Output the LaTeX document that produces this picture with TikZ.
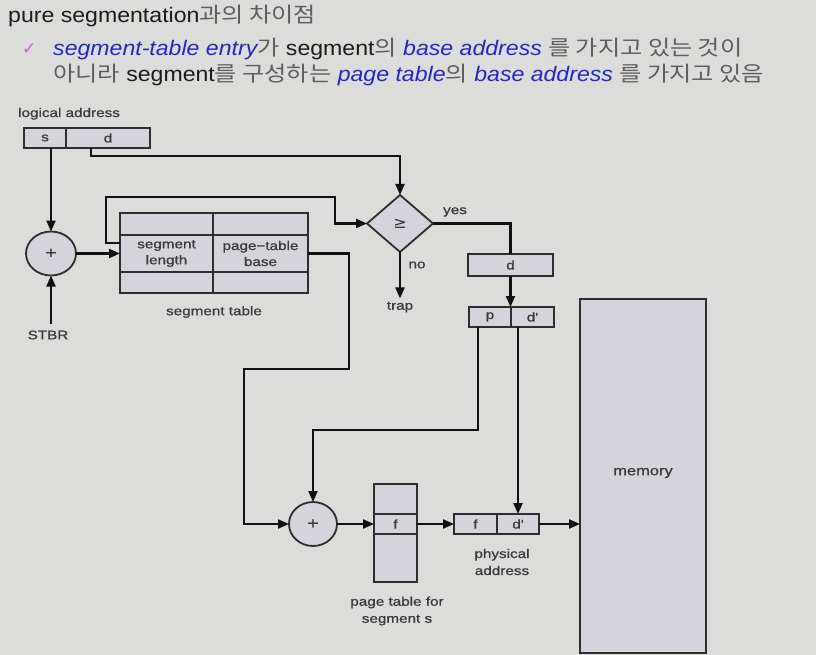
\documentclass[tikz,border=0pt]{standalone}
\usepackage{fontspec}
\setmainfont{Liberation Sans}
\newfontfamily\tf[FakeStretch=1.1]{Liberation Sans}
\newfontfamily\kr[FakeStretch=1.15]{Noto Sans CJK KR}
\newfontfamily\lab[FakeStretch=1.22,FakeBold=0.8]{Liberation Sans}
\newfontfamily\sym{DejaVu Sans}
\usetikzlibrary{arrows.meta,shapes.geometric,calc}
\definecolor{bg}{HTML}{DCDCDA}
\definecolor{boxfill}{HTML}{D4D4DA}
\definecolor{edge}{HTML}{2E2E2E}
\definecolor{ink}{HTML}{111111}
\definecolor{labtext}{HTML}{3A3A3A}
\definecolor{blu}{HTML}{2626C8}
\definecolor{krgray}{HTML}{5E5E5E}
\definecolor{blk}{HTML}{1C1C1C}
\definecolor{chk}{HTML}{B870C4}
\newcommand{\bl}[1]{{\color{blu}\itshape #1}}
\newcommand{\kg}[1]{{\color{krgray}\kr #1}}
\tikzset{
  cell/.style={draw=edge, line width=1.8pt, fill=boxfill, rectangle, inner sep=0pt, outer sep=0pt, font=\lab\fontsize{12.5}{14}\selectfont, text=labtext, align=center},
  addr/.style={draw=edge, line width=1.8pt, fill=boxfill, ellipse, inner sep=0pt, outer sep=0pt, font=\lab\fontsize{16}{16}\selectfont, text=labtext},
  arr/.style={draw=ink, line width=2.2pt, -{Triangle[length=11pt,width=9pt]}},
  ln/.style={draw=ink, line width=2.2pt},
  lbl/.style={inner sep=0pt, font=\lab\fontsize{12.5}{17}\selectfont, text=labtext, align=center},
  txt/.style={inner sep=0pt, anchor=base west, font=\tf\fontsize{21}{25}\selectfont, text=blk}
}
\begin{document}
\begin{tikzpicture}[x=1pt,y=-1pt]
\fill[bg] (0,0) rectangle (816,655);
\useasboundingbox (0,0) rectangle (816,655);
% header text
\node[txt] (title) at (8,23) {pure segmentation\kg{과의 차이점}};
\node[inner sep=0pt, anchor=base west, text=chk, font=\sym\fontsize{17}{18}\selectfont] (check) at (22,55) {✓};
\node[txt] (line2) at (53,56) {\bl{segment-table entry}\kg{가} segment\kg{의} \bl{base address} \kg{를 가지고 있는 것이}};
\node[txt] (line3) at (53,82) {\kg{아니라} segment\kg{를 구성하는} \bl{page table}\kg{의} \bl{base address} \kg{를 가지고 있음}};
% logical address
\node[lbl, anchor=base west] (lalab) at (18,117) {logical address};
\node[cell, minimum width=42pt, minimum height=20pt] (las) at (45,138) {s};
\node[cell, minimum width=84pt, minimum height=20pt] (lad) at (108,138) {d};
% adder 1
\node[addr, minimum width=50pt, minimum height=44pt] (plus1) at (51,253.5) {+};
\node[lbl] (stbr) at (48,335) {STBR};
% segment table
\node[cell, minimum width=93pt, minimum height=22pt] (st11) at (166.5,224) {};
\node[cell, minimum width=95pt, minimum height=22pt] (st12) at (260.5,224) {};
\node[cell, minimum width=93pt, minimum height=37pt] (st21) at (166.5,253.5) {segment\\[2pt]length};
\node[cell, minimum width=95pt, minimum height=37pt] (st22) at (260.5,253.5) {page−table\\[2pt]base};
\node[cell, minimum width=93pt, minimum height=21pt] (st31) at (166.5,282.5) {};
\node[cell, minimum width=95pt, minimum height=21pt] (st32) at (260.5,282.5) {};
\node[lbl] (stlab) at (214,312) {segment table};
% comparator
\node[draw=edge, line width=1.8pt, fill=boxfill, diamond, inner sep=0pt, outer sep=0pt, minimum width=66pt, minimum height=57pt, text=labtext, font=\sym\fontsize{16}{16}\selectfont] (dm) at (400,223.5) {≥};
\node[lbl] (trap) at (400,307) {trap};
\node[lbl] (no) at (417,265) {no};
\node[lbl] (yes) at (455,212) {yes};
% d and p d'
\node[cell, minimum width=85pt, minimum height=22pt] (dbox) at (510.5,265) {d};
\node[cell, minimum width=42pt, minimum height=20pt] (pc) at (490,317) {p};
\node[cell, minimum width=43pt, minimum height=20pt] (dc) at (532.5,317) {d'};
% adder 2
\node[addr, minimum width=48pt, minimum height=44pt] (plus2) at (313,524) {+};
% page table
\node[cell, minimum width=43pt, minimum height=30pt] (pt1) at (395.5,499) {};
\node[cell, minimum width=43pt, minimum height=20pt] (pt2) at (395.5,524) {f};
\node[cell, minimum width=43pt, minimum height=48pt] (pt3) at (395.5,558) {};
\node[lbl] (ptlab) at (397,611) {page table for\\segment s};
% physical address
\node[cell, minimum width=43pt, minimum height=20pt] (pf) at (475.5,524) {f};
\node[cell, minimum width=42pt, minimum height=20pt] (pd) at (518,524) {d'};
\node[lbl] (palab) at (502,562) {physical\\address};
% memory
\node[draw=edge, line width=1.8pt, fill=boxfill, rectangle, inner sep=0pt, outer sep=0pt, minimum width=126pt, minimum height=354pt] (mem) at (643,476) {};
\node[lbl, font=\lab\fontsize{13.5}{16}\selectfont] (memlab) at (643,473) {memory};
% connectors
\draw[arr] (plus1.north |- las.south) -- (plus1.north);
\draw[arr] (plus1.south |- stbr.north) ++(0,-6) -- (plus1.south);
\draw[arr] ([xshift=-17pt]lad.south) -- ++(0,8) -| (dm.north);
\draw[arr] (plus1.east) -- (plus1.east -| st21.west);
\draw[arr] ([yshift=10.5pt]st21.west) -- (106,243) |- (335,197) |- (dm.west);
\draw[arr] (dm.south) -- ([yshift=3pt]trap.north);
\draw[ln] (dm.east) -| (dbox.north);
\draw[arr] (dbox.south) -- (dbox.south |- pc.north);
\draw[arr] ([xshift=-12pt]pc.south) -- ++(0,103) -| (plus2.north);
\draw[arr] (dc.south -| pd.north) -- (pd.north);
\draw[arr] (st22.east) -- (349,253.5) |- (244,369) |- (plus2.west);
\draw[arr] (plus2.east) -- (pt2.west);
\draw[arr] (pt2.east) -- (pf.west);
\draw[arr] (pd.east) -- (mem.west |- pd.east);
\end{tikzpicture}
\end{document}
